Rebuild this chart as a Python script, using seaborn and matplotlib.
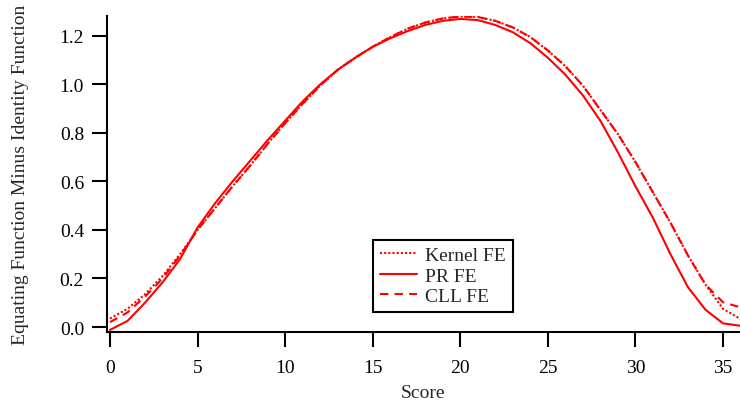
import matplotlib
matplotlib.use("Agg")
import matplotlib.pyplot as plt
import seaborn as sns
import pandas as pd

scores = list(range(0, 37))
kernel_fe = [0.035, 0.075, 0.135, 0.21, 0.30, 0.40, 0.49, 0.58, 0.665, 0.755,
             0.84, 0.92, 0.995, 1.06, 1.11, 1.155, 1.195, 1.23, 1.255, 1.272,
             1.28, 1.278, 1.262, 1.235, 1.195, 1.14, 1.075, 0.995, 0.895, 0.795,
             0.68, 0.555, 0.43, 0.295, 0.175, 0.075, 0.033]
pr_fe = [-0.012, 0.025, 0.10, 0.184, 0.28, 0.41, 0.51, 0.60, 0.685, 0.77,
         0.85, 0.93, 1.00, 1.06, 1.11, 1.155, 1.19, 1.22, 1.245, 1.262,
         1.27, 1.265, 1.245, 1.215, 1.17, 1.11, 1.04, 0.955, 0.85, 0.72,
         0.58, 0.45, 0.30, 0.164, 0.071, 0.015, 0.005]
cll_fe = [0.02, 0.06, 0.125, 0.20, 0.295, 0.40, 0.49, 0.58, 0.665, 0.755,
          0.84, 0.92, 0.995, 1.06, 1.11, 1.155, 1.195, 1.23, 1.255, 1.272,
          1.28, 1.278, 1.262, 1.235, 1.195, 1.14, 1.075, 0.995, 0.895, 0.795,
          0.68, 0.555, 0.43, 0.295, 0.175, 0.102, 0.081]
series_names = ["Kernel FE", "PR FE", "CLL FE"]
x_ticks = [0, 5, 10, 15, 20, 25, 30, 35]
y_ticks = [0.0, 0.2, 0.4, 0.6, 0.8, 1.0, 1.2]

sns.set_style("ticks")
plt.rcParams["font.family"] = ["Liberation Serif", "DejaVu Serif"]
FS = 14
plt.rcParams["font.size"] = FS

W, H = 740, 410
fig = plt.figure(figsize=(W / 100, H / 100), dpi=100)
L, R, T, B = 107, 740, 17, 333
ax = fig.add_axes([L / W, (H - B) / H, (R - L) / W, (B - T) / H])

df = pd.DataFrame({"Score": scores, "Kernel FE": kernel_fe, "PR FE": pr_fe, "CLL FE": cll_fe})
styles = {
    "Kernel FE": (0, (1, 1)),
    "PR FE": "-",
    "CLL FE": (0, (4, 3)),
}
for name in series_names:
    sns.lineplot(data=df, x="Score", y=name, ax=ax, color="#ff0000",
                 linewidth=1.5, linestyle=styles[name], label=name)

ax.set_xlim(-0.17, 35.97)
ax.set_ylim(-0.0206, 1.282)
ax.set_xticks(x_ticks)
ax.set_xticklabels([str(t) for t in x_ticks])
ax.set_yticks(y_ticks)
ax.set_yticklabels([f"{t:.1f}" for t in y_ticks])
ax.set_xlabel("Score", fontsize=FS, labelpad=6)
ax.set_ylabel("Equating Function Minus Identity Function", fontsize=FS, labelpad=22)

for s in ["top", "right"]:
    ax.spines[s].set_visible(False)
for s in ["left", "bottom"]:
    ax.spines[s].set_linewidth(1.5)
    ax.spines[s].set_color("black")
ax.tick_params(axis="both", direction="out", length=10.5, width=1.5,
               colors="black", labelsize=FS)
ax.tick_params(axis="x", pad=9)
ax.tick_params(axis="y", pad=6)

leg = ax.legend(loc="lower left", bbox_to_anchor=(0.420, 0.063), borderaxespad=0,
                frameon=True, fancybox=False, shadow=False, fontsize=FS,
                handlelength=1.9, handletextpad=0.45, labelspacing=0.15,
                borderpad=0.35)
leg.get_frame().set_edgecolor("black")
leg.get_frame().set_linewidth(1.5)
leg.get_frame().set_alpha(1)

fig.savefig("out.png", dpi=100)
